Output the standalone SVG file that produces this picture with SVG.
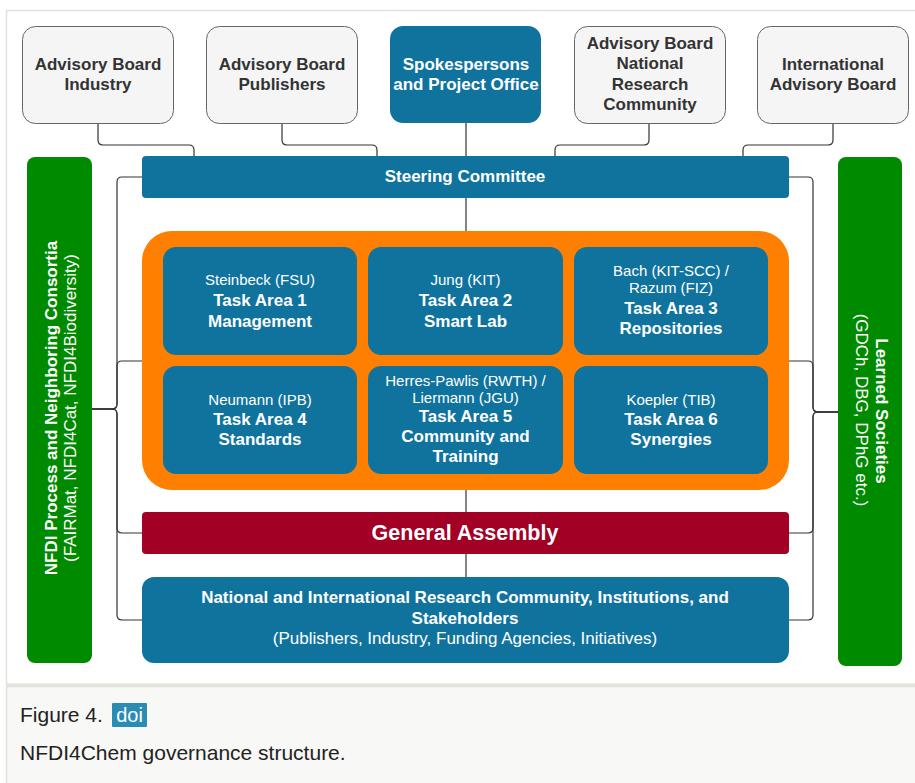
<svg xmlns="http://www.w3.org/2000/svg" width="915" height="783" viewBox="0 0 915 783">
<style>
text{font-family:"Liberation Sans",Arial,Helvetica,sans-serif;text-anchor:middle}
.b{font-weight:bold;font-size:17px}
.r{font-size:15px}
.r17{font-size:17px}
.w{fill:#ffffff}
.d{fill:#333333}
.adv{fill:#f5f5f5;stroke:#666666;stroke-width:1}
.blue{fill:#10739e}
.green{fill:#008a00}
.conn path{fill:none;stroke:#333333;stroke-width:1.2}
.cap{text-anchor:start;font-size:21px;fill:#222222}
</style>
<rect x="0" y="0" width="915" height="783" fill="#ffffff"/>
<rect x="6.5" y="10.5" width="915" height="674" fill="#ffffff" stroke="#e2e2dc" stroke-width="1.5"/>
<rect x="6.5" y="686.5" width="915" height="100" fill="#f8f8f6" stroke="#e2e2dc" stroke-width="1.5"/>
<line x1="6" y1="685" x2="915" y2="685" stroke="#e4e4df" stroke-width="3"/>

<g class="conn" id="connectors">
<path d="M466,123 V577"/>
<path d="M98,123 V140 Q98,145 103,145 H189 Q194,145 194,150 V156"/>
<path d="M282,123 V140 Q282,145 287,145 H372 Q377,145 377,150 V156"/>
<path d="M649,123 V140 Q649,145 644,145 H560 Q555,145 555,150 V156"/>
<path d="M833,123 V140 Q833,145 828,145 H748 Q743,145 743,150 V156"/>
<path d="M92,409 H112 Q117,409 117,404 V182 Q117,177 122,177 H142"/>
<path d="M92,409 H112 Q117,409 117,404 V366 Q117,361 122,361 H142"/>
<path d="M92,409 H112 Q117,409 117,414 V528 Q117,533 122,533 H142"/>
<path d="M92,409 H112 Q117,409 117,414 V615 Q117,620 122,620 H142"/>
<path d="M838,412 H818 Q813,412 813,407 V182 Q813,177 808,177 H789"/>
<path d="M838,412 H818 Q813,412 813,407 V366 Q813,361 808,361 H789"/>
<path d="M838,412 H818 Q813,412 813,417 V528 Q813,533 808,533 H789"/>
<path d="M838,412 H818 Q813,412 813,417 V615 Q813,620 808,620 H789"/>
</g>

<g id="ab-industry">
<rect class="adv" x="22.5" y="26.5" width="151" height="97" rx="13"/>
<text class="b d" x="98" y="70">Advisory Board</text>
<text class="b d" x="98" y="90">Industry</text>
</g>
<g id="ab-publishers">
<rect class="adv" x="206.5" y="26.5" width="151" height="97" rx="13"/>
<text class="b d" x="282" y="70">Advisory Board</text>
<text class="b d" x="282" y="90">Publishers</text>
</g>
<g id="spokespersons">
<rect class="blue" x="390" y="26" width="151" height="97" rx="13"/>
<text class="b w" x="466" y="70">Spokespersons</text>
<text class="b w" x="466" y="90">and Project Office</text>
</g>
<g id="ab-national">
<rect class="adv" x="574.5" y="26.5" width="151" height="97" rx="13"/>
<text class="b d" x="650" y="49">Advisory Board</text>
<text class="b d" x="650" y="69">National</text>
<text class="b d" x="650" y="90">Research</text>
<text class="b d" x="650" y="110">Community</text>
</g>
<g id="ab-international">
<rect class="adv" x="757.5" y="26.5" width="151" height="97" rx="13"/>
<text class="b d" x="833" y="70">International</text>
<text class="b d" x="833" y="90">Advisory Board</text>
</g>

<g id="nfdi-process">
<rect class="green" x="27" y="157" width="65" height="506" rx="8"/>
<text class="b w" transform="translate(57,408) rotate(-90)">NFDI Process and Neighboring Consortia</text>
<text class="r17 w" transform="translate(76,408) rotate(-90)">(FAIRMat, NFDI4Cat, NFDI4Biodiversity)</text>
</g>
<g id="learned-societies">
<rect class="green" x="838" y="157" width="64" height="509" rx="8"/>
<text class="b w" transform="translate(876,411) rotate(90)">Learned Societies</text>
<text class="r17 w" transform="translate(856,410) rotate(90)">(GDCh, DBG, DPhG etc.)</text>
</g>

<g id="steering">
<rect class="blue" x="142" y="156" width="647" height="42" rx="4"/>
<text class="b w" x="465" y="182">Steering Committee</text>
</g>

<g id="task-areas">
<rect x="142" y="231" width="647" height="259" rx="30" fill="#ff8000"/>
</g>
<g id="ta1">
<rect class="blue" x="163" y="247" width="194" height="108" rx="13"/>
<text class="r w" x="260" y="285">Steinbeck (FSU)</text>
<text class="b w" x="260" y="306">Task Area 1</text>
<text class="b w" x="260" y="327">Management</text>
</g>
<g id="ta2">
<rect class="blue" x="368" y="247" width="195" height="108" rx="13"/>
<text class="r w" x="465.5" y="285">Jung (KIT)</text>
<text class="b w" x="465.5" y="306">Task Area 2</text>
<text class="b w" x="465.5" y="327">Smart Lab</text>
</g>
<g id="ta3">
<rect class="blue" x="574" y="247" width="194" height="108" rx="13"/>
<text class="r w" x="671" y="276">Bach (KIT-SCC) /</text>
<text class="r w" x="671" y="293">Razum (FIZ)</text>
<text class="b w" x="671" y="314">Task Area 3</text>
<text class="b w" x="671" y="334">Repositories</text>
</g>
<g id="ta4">
<rect class="blue" x="163" y="366" width="194" height="108" rx="13"/>
<text class="r w" x="260" y="405">Neumann (IPB)</text>
<text class="b w" x="260" y="425">Task Area 4</text>
<text class="b w" x="260" y="445">Standards</text>
</g>
<g id="ta5">
<rect class="blue" x="368" y="366" width="195" height="108" rx="13"/>
<text class="r w" x="465.5" y="386">Herres-Pawlis (RWTH) /</text>
<text class="r w" x="465.5" y="403">Liermann (JGU)</text>
<text class="b w" x="465.5" y="422">Task Area 5</text>
<text class="b w" x="465.5" y="442">Community and</text>
<text class="b w" x="465.5" y="462">Training</text>
</g>
<g id="ta6">
<rect class="blue" x="574" y="366" width="194" height="108" rx="13"/>
<text class="r w" x="671" y="405">Koepler (TIB)</text>
<text class="b w" x="671" y="425">Task Area 6</text>
<text class="b w" x="671" y="445">Synergies</text>
</g>

<g id="general-assembly">
<rect x="142" y="512" width="647" height="42" rx="4" fill="#a20025"/>
<text class="w" x="465" y="540" style="font-weight:bold;font-size:21.5px">General Assembly</text>
</g>

<g id="community">
<rect class="blue" x="142" y="577" width="647" height="86" rx="12"/>
<text class="b w" x="465" y="603">National and International Research Community, Institutions, and</text>
<text class="b w" x="465" y="624">Stakeholders</text>
<text class="r17 w" x="465" y="644">(Publishers, Industry, Funding Agencies, Initiatives)</text>
</g>

<g id="caption">
<text class="cap" x="20" y="722">Figure 4.</text>
<rect x="112" y="703" width="35" height="24" rx="1" fill="#2a8cb2"/>
<text x="129.5" y="722" fill="#ffffff" style="font-size:20px">doi</text>
<text class="cap" x="20" y="760">NFDI4Chem governance structure.</text>
</g>
</svg>
